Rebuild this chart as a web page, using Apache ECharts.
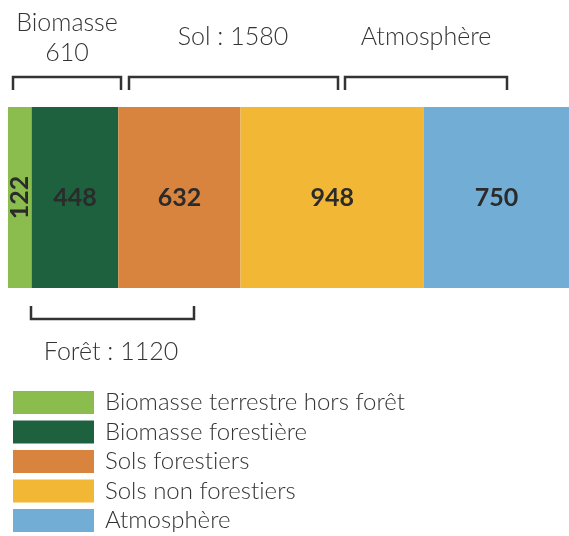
<!DOCTYPE html>
<html>
<head>
<meta charset="utf-8">
<script src="https://cdn.jsdelivr.net/npm/echarts@6/dist/echarts.min.js"></script>
<style>
  html, body { margin: 0; padding: 0; background: #fff; }
  #chart { width: 569px; height: 536px; }
</style>
</head>
<body>
<div id="chart"></div>
<script>
// Données
const categories = ['Stock'];
const seriesNames = ['Biomasse terrestre hors forêt', 'Biomasse forestière', 'Sols forestiers', 'Sols non forestiers', 'Atmosphère'];
const seriesValues = [122, 448, 632, 948, 750];
const seriesColors = ['#8bbd4e', '#1e613e', '#d8843f', '#f2b835', '#72add6'];

// Annotations (accolades)
const bracketLabels = ['Biomasse\n610', 'Sol : 1580', 'Atmosphère', 'Forêt : 1120'];

const fontFamily = 'Lato, "Noto Sans", sans-serif';
const textColor = '#333';

const chart = echarts.init(document.getElementById('chart'));

const series = seriesNames.map((name, i) => ({
    name: name,
    type: 'bar',
    stack: 'total',
    barCategoryGap: 0,
    data: [seriesValues[i]],
    itemStyle: { color: seriesColors[i] },
    label: {
        show: true,
        position: 'inside',
        rotate: i === 0 ? 90 : 0,
        fontFamily: fontFamily,
        fontSize: 25,
        fontWeight: 'bold',
        color: '#2b2b2b'
    }
}));

// dessine une accolade carrée
function bracket(x1, x2, y, dir) {
    const h = 13 * dir;
    return {
        type: 'polyline',
        shape: { points: [[x1, y + h], [x1, y], [x2, y], [x2, y + h]] },
        style: { stroke: '#333', lineWidth: 2.5, fill: null }
    };
}

function label(text, x, y) {
    return {
        type: 'text',
        x: x,
        y: y,
        style: {
            text: text,
            fontFamily: fontFamily,
            fontSize: 25,
            fontWeight: 300,
            lineHeight: 30,
            fill: textColor,
            align: 'center',
            verticalAlign: 'middle'
        }
    };
}

// évite la ligature "ti" de Lato
const noLig = s => s.replace(/ti/g, 't\u200Ci');

const option = {
    animation: false,
    grid: { left: 8, right: 0, top: 107, height: 181 },
    xAxis: { type: 'value', min: 0, max: 2900, show: false },
    yAxis: { type: 'category', data: categories, show: false },
    legend: {
        orient: 'vertical',
        left: 13,
        top: 387,
        height: 200,
        padding: 0,
        icon: 'rect',
        itemWidth: 81,
        itemHeight: 23,
        itemGap: -1.5,
        selectedMode: false,
        formatter: noLig,
        textStyle: {
            fontFamily: fontFamily,
            fontSize: 24,
            fontWeight: 300,
            lineHeight: 23,
            color: textColor,
            padding: [8, 0, 0, 6]
        },
        data: seriesNames
    },
    graphic: [
        bracket(13, 121, 77, 1),
        bracket(129, 338, 77, 1),
        bracket(345, 507, 77, 1),
        bracket(31, 194, 319, -1),
        label(bracketLabels[0], 67, 38),
        label(bracketLabels[1], 233, 37),
        label(bracketLabels[2], 426, 37),
        label(bracketLabels[3], 111, 352)
    ],
    series: series
};

chart.setOption(option);
</script>
</body>
</html>
